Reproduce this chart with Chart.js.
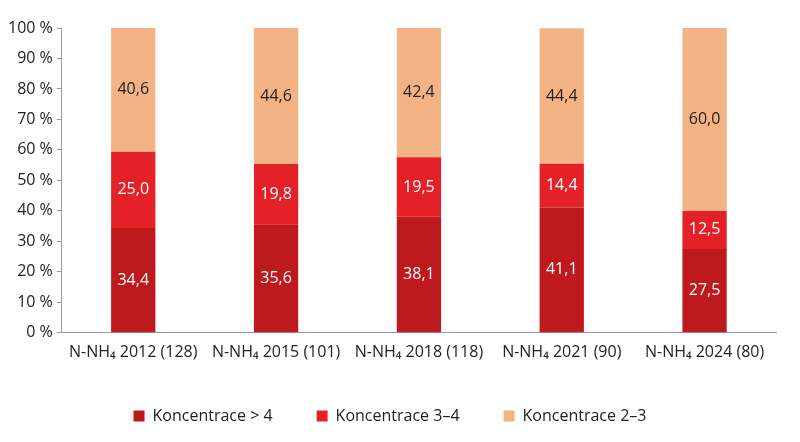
<!DOCTYPE html>
<html>
<head>
<meta charset="utf-8">
<script src="https://cdn.jsdelivr.net/npm/chart.js@4"></script>
<style>
  body { margin: 0; background: #fff; }
  #wrap { width: 800px; height: 442px; }
</style>
</head>
<body>
<div id="wrap"><canvas id="graf"></canvas></div>
<script>
// Data
const kategorie = ['N-NH₄ 2012 (128)', 'N-NH₄ 2015 (101)', 'N-NH₄ 2018 (118)', 'N-NH₄ 2021 (90)', 'N-NH₄ 2024 (80)'];
const nad4 = [34.4, 35.6, 38.1, 41.1, 27.5];
const od3do4 = [25.0, 19.8, 19.5, 14.4, 12.5];
const od2do3 = [40.6, 44.6, 42.4, 44.4, 60.0];

// popisky hodnot uvnitř sloupců
const popisky = {
  id: 'popisky',
  afterDatasetsDraw(chart) {
    const ctx = chart.ctx;
    ctx.save();
    ctx.font = '16px "Open Sans", sans-serif';
    ctx.textAlign = 'center';
    ctx.textBaseline = 'middle';
    chart.data.datasets.forEach((ds, i) => {
      chart.getDatasetMeta(i).data.forEach((bar, j) => {
        const y = (bar.y + bar.base) / 2;
        ctx.fillStyle = i === 2 ? '#222' : '#fff';
        ctx.fillText(ds.data[j].toFixed(1).replace('.', ','), bar.x, y);
      });
    });
    ctx.restore();
  }
};

const pismo = { size: 16, family: '"Open Sans", sans-serif' };

new Chart(document.getElementById('graf'), {
  type: 'bar',
  data: {
    labels: kategorie,
    datasets: [
      { label: 'Koncentrace > 4', data: nad4, backgroundColor: '#be1a1d' },
      { label: 'Koncentrace 3–4', data: od3do4, backgroundColor: '#e42127' },
      { label: 'Koncentrace 2–3', data: od2do3, backgroundColor: '#f4b385' }
    ]
  },
  options: {
    responsive: true,
    maintainAspectRatio: false,
    animation: false,
    layout: { padding: { left: 4, right: 24, top: 28, bottom: 8 } },
    datasets: { bar: { categoryPercentage: 1, barPercentage: 0.31 } },
    scales: {
      x: {
        stacked: true,
        grid: { display: false },
        border: { color: '#999' },
        ticks: { color: '#222', font: pismo, maxRotation: 0, padding: 2 }
      },
      y: {
        stacked: true,
        min: 0, max: 100,
        ticks: { stepSize: 10, color: '#222', font: pismo, callback: v => v + ' %', padding: 4 },
        grid: { drawOnChartArea: false, drawTicks: true, tickLength: 5, color: '#999' },
        border: { color: '#999' }
      }
    },
    plugins: {
      legend: {
        position: 'bottom',
        labels: { boxWidth: 11, boxHeight: 11, padding: 44, color: '#222', font: pismo }
      },
      tooltip: { enabled: false }
    }
  },
  plugins: [popisky]
});
</script>
</body>
</html>
